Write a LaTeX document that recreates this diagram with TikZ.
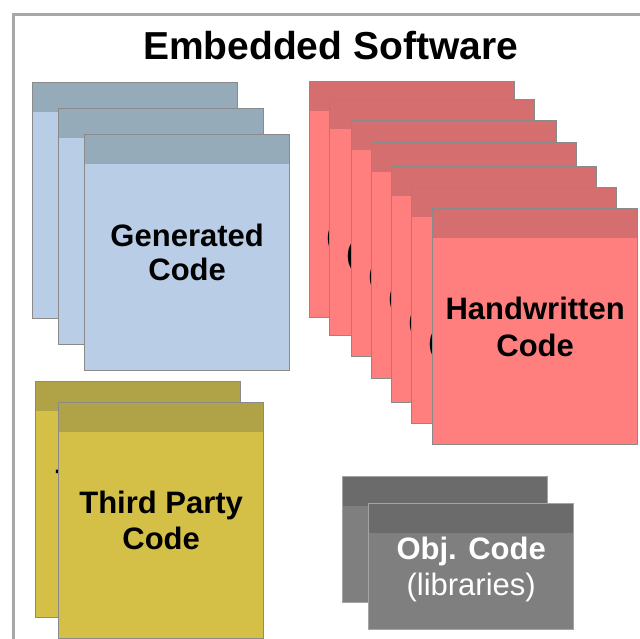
\documentclass[tikz,border=0pt]{standalone}
\usepackage{fontspec}
\setmainfont{Liberation Sans}

\definecolor{frameline}{HTML}{A8A8A8}
\definecolor{edge}{HTML}{8A8A8A}
\definecolor{objedge}{HTML}{A4A4A4}
\definecolor{genhead}{HTML}{95ABBA}
\definecolor{genbody}{HTML}{B9CDE7}
\definecolor{hwhead}{HTML}{D56E6E}
\definecolor{hwbody}{HTML}{FF7F7F}
\definecolor{tphead}{HTML}{B0A246}
\definecolor{tpbody}{HTML}{D4C046}
\definecolor{objhead}{HTML}{6B6B6B}
\definecolor{objbody}{HTML}{7F7F7F}

\newcommand{\titlefont}{\bfseries\fontsize{39}{44}\selectfont}
\newcommand{\cardfont}{\bfseries\fontsize{31}{36}\selectfont}

\tikzset{
  card/.style 2 args={draw=edge, line width=1.3pt, fill=#2,
    anchor=north west, inner sep=0pt,
    minimum width=205pt, minimum height=236pt,
    align=center, font=\cardfont,
    path picture={\fill[#1] (path picture bounding box.north west)
      rectangle ([yshift=-29pt]path picture bounding box.north east);}},
  gencard/.style={card={genhead}{genbody}},
  hwcard/.style={card={hwhead}{hwbody}},
  tpcard/.style={card={tphead}{tpbody}},
  objcard/.style={card={objhead}{objbody}, draw=objedge,
    minimum height=126pt, text=white},
  peek/.style={inner sep=0pt, font=\cardfont},
}

\begin{document}
\begin{tikzpicture}[x=1pt, y=-1pt]
  \useasboundingbox (0,0) rectangle (640,639);

  % outer frame (runs past the right and bottom edges)
  \draw[frameline, line width=3pt] (13.5,639) -- (13.5,14.5) -- (640,14.5);

  \node[font=\titlefont, inner sep=0pt] (title) at (330.5,46) {Embedded Software};

  % generated code stack
  \node[gencard] (gen1) at (32,82) {};
  \node[gencard] (gen2) at (58,108) {};
  \node[gencard] (gen3) at (84,134) {Generated\\[-2pt]Code};

  % handwritten code stack: only a sliver of each hidden label shows
  \foreach \x/\y [count=\i] in {309/81, 329/99, 351/120, 371/142, 391/166, 411/187} {
    \node[hwcard] (hw\i) at (\x,\y) {};
    \node[peek] (hwp\i) at ([xshift=22.5pt, yshift=-157.5pt]hw\i.north west) {(};
  }
  \node[hwcard] (hw7) at (432,208) {Handwritten\\[1pt]Code};

  % third party code stack
  \node[tpcard] (tp1) at (35,381) {};
  \node[peek, anchor=north west] (tpp1) at (55.5,470) {T};
  \node[tpcard] (tp2) at (58,402) {Third Party\\Code};

  % object code stack
  \node[objcard] (obj1) at (342,476) {};
  \node[objcard, text depth=0pt] (obj2) at (368,503)
    {Obj. Code\\{\mdseries (libraries)}};
\end{tikzpicture}
\end{document}
